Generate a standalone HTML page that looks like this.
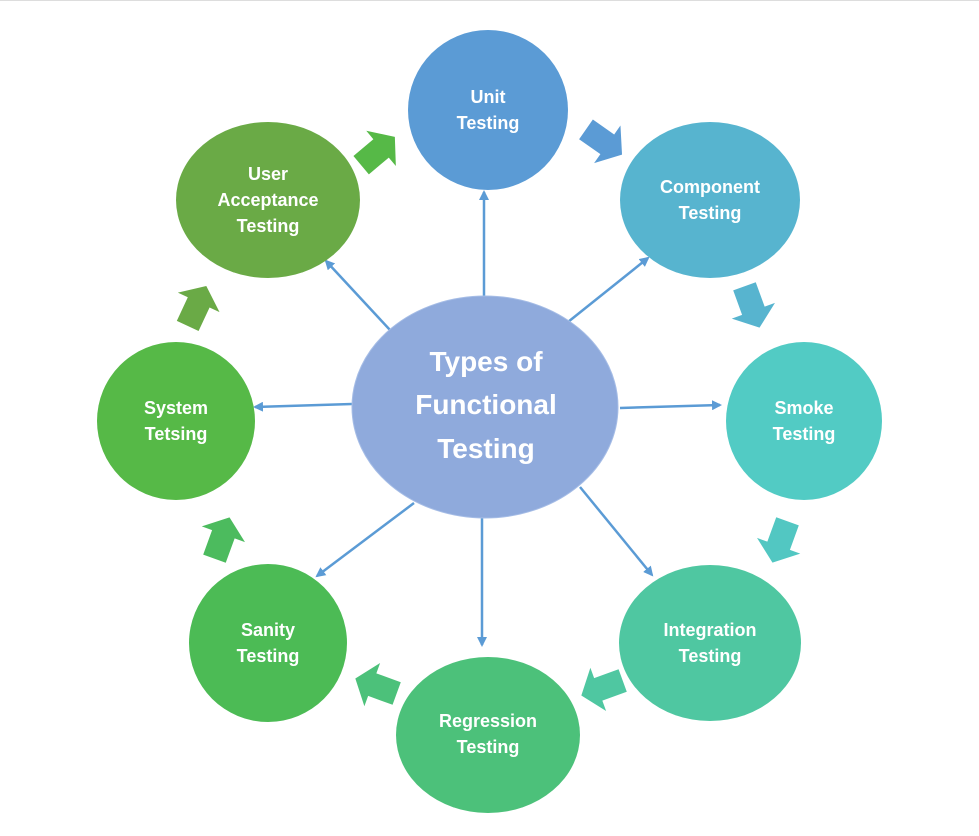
<!DOCTYPE html>
<html><head><meta charset="utf-8"><style>
html,body{margin:0;padding:0;background:#fff;width:979px;height:836px;overflow:hidden}
svg text{font-family:"Liberation Sans",sans-serif;font-weight:bold;fill:#fff;text-anchor:middle}
</style></head><body>
<svg width="979" height="836" viewBox="0 0 979 836" xmlns="http://www.w3.org/2000/svg">
<defs>
<marker id="ah" markerWidth="10" markerHeight="10" refX="8" refY="5" orient="auto" markerUnits="userSpaceOnUse">
<path d="M0,0 L10,5 L0,10 z" fill="#5b9bd5"/></marker>
<path id="ba" d="M-22,-12 L4,-12 L4,-23 L22,0 L4,23 L4,12 L-22,12 z"/>
</defs>
<line x1="0" y1="0.5" x2="979" y2="0.5" stroke="#ddd"/>
<g stroke="#5b9bd5" stroke-width="2.5" marker-end="url(#ah)">
<line x1="484" y1="300" x2="484" y2="192"/>
<line x1="568" y1="322" x2="648" y2="258"/>
<line x1="620" y1="408" x2="720" y2="405"/>
<line x1="580" y1="487" x2="652" y2="575"/>
<line x1="482" y1="518" x2="482" y2="645"/>
<line x1="414" y1="503" x2="317" y2="576"/>
<line x1="352" y1="404" x2="255" y2="407"/>
<line x1="390" y1="330" x2="326" y2="261"/>
</g>
<g>
<use href="#ba" fill="#56b947" transform="translate(378,151) rotate(-40)"/>
<use href="#ba" fill="#5b9bd5" transform="translate(604,142) rotate(35)"/>
<use href="#ba" fill="#57b4cf" transform="translate(752,307) rotate(70)"/>
<use href="#ba" fill="#52c7c2" transform="translate(780,542) rotate(110)"/>
<use href="#ba" fill="#4fc7a1" transform="translate(602,688) rotate(160)"/>
<use href="#ba" fill="#4cc17a" transform="translate(376,686) rotate(200)"/>
<use href="#ba" fill="#4cbb5e" transform="translate(222,538) rotate(-70)"/>
<use href="#ba" fill="#6aaa46" transform="translate(197,306) rotate(-65)"/>
</g>
<ellipse cx="488" cy="110" rx="80" ry="80" fill="#5b9bd5"/>
<ellipse cx="710" cy="200" rx="90" ry="78" fill="#57b4cf"/>
<ellipse cx="804" cy="421" rx="78" ry="79" fill="#52cbc4"/>
<ellipse cx="710" cy="643" rx="91" ry="78" fill="#4fc7a1"/>
<ellipse cx="488" cy="735" rx="92" ry="78" fill="#4cc17a"/>
<ellipse cx="268" cy="643" rx="79" ry="79" fill="#4cbb55"/>
<ellipse cx="176" cy="421" rx="79" ry="79" fill="#56b947"/>
<ellipse cx="268" cy="200" rx="92" ry="78" fill="#6aaa46"/>
<ellipse cx="485" cy="407" rx="133" ry="111" fill="#8faadc" stroke="#a6bde6" stroke-width="1"/>
<g font-size="18">
<text x="488" y="103">Unit</text><text x="488" y="129">Testing</text>
<text x="710" y="193">Component</text><text x="710" y="219">Testing</text>
<text x="804" y="414">Smoke</text><text x="804" y="440">Testing</text>
<text x="710" y="636">Integration</text><text x="710" y="662">Testing</text>
<text x="488" y="727">Regression</text><text x="488" y="753">Testing</text>
<text x="268" y="636">Sanity</text><text x="268" y="662">Testing</text>
<text x="176" y="414">System</text><text x="176" y="440">Tetsing</text>
<text x="268" y="180">User</text><text x="268" y="206">Acceptance</text><text x="268" y="232">Testing</text>
</g>
<g font-size="28">
<text x="486" y="371">Types of</text>
<text x="486" y="414">Functional</text>
<text x="486" y="458">Testing</text>
</g>
</svg>
</body></html>
